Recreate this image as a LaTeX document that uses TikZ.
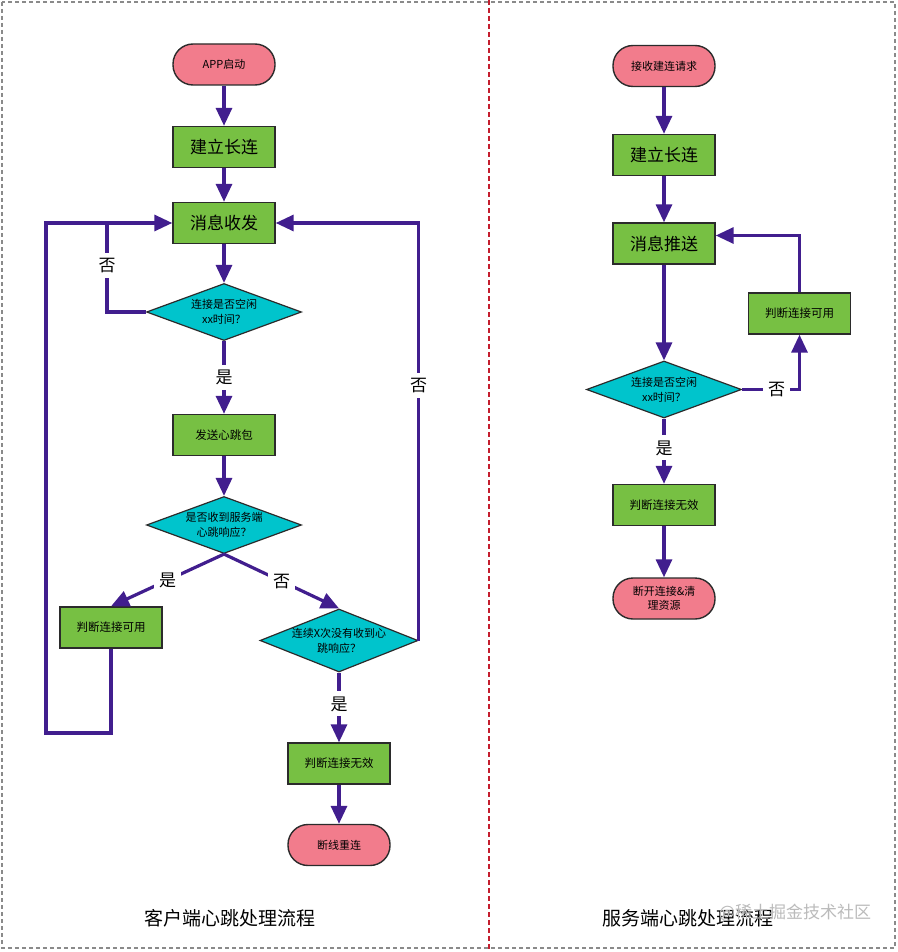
\documentclass[tikz,border=0pt]{standalone}
\usepackage{fontspec}
\setmainfont{Noto Sans CJK SC}
\usetikzlibrary{arrows.meta,shapes.geometric}
\definecolor{termpink}{HTML}{F27C8C}
\definecolor{boxgreen}{HTML}{77C043}
\definecolor{diacyan}{HTML}{00C4CC}
\definecolor{flowc}{HTML}{411E8E}
\definecolor{edgec}{HTML}{2B2B2B}
\definecolor{framegray}{HTML}{8A8A8A}
\definecolor{divred}{HTML}{C41E2E}
\definecolor{wmgray}{HTML}{BBBBBB}
\begin{document}
\begin{tikzpicture}[x=1pt,y=-1pt,
  termbox/.style={draw=edgec,line width=1.4pt,fill=termpink,rectangle,rounded corners=20pt,
    minimum width=102pt,minimum height=41pt,inner sep=0pt,align=center,
    font=\fontsize{11}{14}\selectfont},
  procbox/.style={draw=edgec,line width=1.4pt,fill=boxgreen,rectangle,
    minimum width=102pt,minimum height=41pt,inner sep=0pt,align=center,
    font=\fontsize{11.5}{14}\selectfont},
  bigbox/.style={procbox,font=\fontsize{17}{20}\selectfont},
  decbox/.style={draw=edgec,line width=1.2pt,fill=diacyan,diamond,aspect=2.7,
    minimum width=155pt,minimum height=57pt,inner sep=0pt,align=center,
    font=\fontsize{11}{15}\selectfont},
  flow/.style={draw=flowc,line width=3.2pt,-{Triangle[length=18pt,width=16pt]}},
  flowline/.style={draw=flowc,line width=3.2pt},
  lab/.style={fill=white,inner sep=5pt,font=\fontsize{17}{17}\selectfont},
  titletext/.style={font=\fontsize{19}{19}\selectfont},
]
\useasboundingbox (0,0) rectangle (897,952);
\fill[white] (0,0) rectangle (897,952);
% frame and divider
\draw[framegray,line width=1.5pt,dash pattern=on 4pt off 3pt] (2,2) rectangle (895,948);
\draw[divred,line width=2pt,dash pattern=on 5pt off 3pt] (489,0) -- (489,952);

% ---------- left: client ----------
\node[termbox] (app) at (224,64.5) {APP启动};
\node[bigbox] (lconn) at (224,147) {建立长连};
\node[bigbox] (msg) at (224,223) {消息收发};
\node[decbox] (d1) at (224,312) {连接是否空闲\\xx时间？};
\node[procbox] (beat) at (224,435) {发送心跳包};
\node[decbox] (d2) at (224,525) {是否收到服务端\\心跳响应？};
\node[procbox] (lok) at (111,627.5) {判断连接可用};
\node[decbox,minimum width=158pt,minimum height=63pt,aspect=2.5] (d3) at (339,640.5) {连续X次没有收到心\\跳响应？};
\node[procbox] (linv) at (339,763.5) {判断连接无效};
\node[termbox] (recon) at (339,845) {断线重连};
\coordinate (jl) at (107,223);
\coordinate (cl) at (46,733);

\draw[flow] (app) -- (lconn);
\draw[flow] (lconn) -- (msg);
\draw[flow] (msg) -- (d1);
\draw[flowline] (d1.west) -| node[lab,pos=0.76]{否} (jl);
\draw[flow] (d1.south) -- node[lab]{是} (beat.north);
\draw[flow] (beat) -- (d2);
\draw[flow] (d2.south) -- node[lab]{是} (lok.north);
\draw[flow] (d2.south) -- node[lab]{否} (d3.north);
\draw[flow] (lok.south) |- (cl) |- (msg.west);
\draw[flow] (d3.east) |- node[lab,pos=0.305]{否} (msg.east);
\draw[flow] (d3.south) -- node[lab,pos=0.45]{是} (linv.north);
\draw[flow] (linv) -- (recon);

% ---------- right: server ----------
\node[termbox] (recv) at (664,66) {接收建连请求};
\node[bigbox] (rconn) at (664,155) {建立长连};
\node[bigbox] (push) at (664,243.5) {消息推送};
\node[decbox] (rd) at (664,389.5) {连接是否空闲\\xx时间？};
\node[procbox] (rok) at (799.5,313.5) {判断连接可用};
\node[procbox] (rinv) at (664,505) {判断连接无效};
\node[termbox] (disc) at (664,598.5) {断开连接\&清\\理资源};

\draw[flow] (recv) -- (rconn);
\draw[flow] (rconn) -- (push);
\draw[flow] (push) -- (rd);
\draw[flow] (rd.east) -| node[lab,pos=0.3]{否} (rok.south);
\draw[flow] (rok.north) |- ([yshift=8pt]push.east);
\draw[flow] (rd.south) -- node[lab,pos=0.45]{是} (rinv.north);
\draw[flow] (rinv) -- (disc);

% ---------- titles ----------
\node[titletext] (ltitle) at (230,918) {客户端心跳处理流程};
\node[titletext] (rtitle) at (688,918) {服务端心跳处理流程};
\node[font=\fontsize{17}{17}\selectfont,text=wmgray] (wm) at (795,913) {@稀土掘金技术社区};
\end{tikzpicture}
\end{document}
